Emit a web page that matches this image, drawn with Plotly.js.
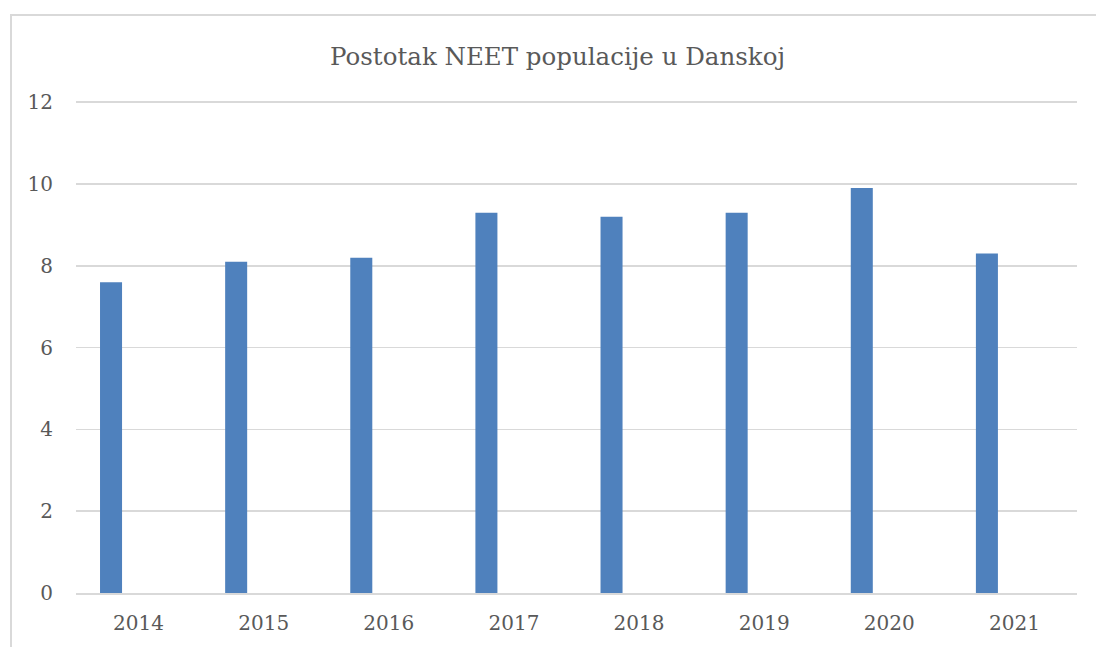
<!DOCTYPE html>
<html>
<head>
<meta charset="utf-8">
<script src="https://cdn.plot.ly/plotly-3.0.1.min.js"></script>
<style>
  html, body { margin: 0; padding: 0; background: #fff; overflow: hidden; }
  #frame { position: absolute; left: 10px; top: 14px; width: 1200px; height: 800px; border: 2px solid #D9D9D9; box-sizing: border-box; pointer-events: none; z-index: 2; }
  #chart { position: absolute; left: 0; top: 0; width: 1096px; height: 647px; }
</style>
</head>
<body>
<div id="chart"></div>
<div id="frame"></div>
<script>
const years = ["2014", "2015", "2016", "2017", "2018", "2019", "2020", "2021"];
const neetShare = [7.6, 8.1, 8.2, 9.3, 9.2, 9.3, 9.9, 8.3];
const yTicks = [0, 2, 4, 6, 8, 10, 12];
const titleText = "Postotak NEET populacije u Danskoj";

const fontFamily = "'DejaVu Serif', 'Liberation Serif', serif";
const textColor = "#595959";
const gridColor = "#D9D9D9";

const trace = {
  type: "bar",
  x: years,
  y: neetShare,
  width: 0.176,
  offset: -0.308,
  marker: { color: "#4F81BD", line: { width: 0 } },
  hoverinfo: "x+y"
};

const layout = {
  width: 1096,
  height: 647,
  paper_bgcolor: "rgba(0,0,0,0)",
  plot_bgcolor: "rgba(0,0,0,0)",
  margin: { l: 76, r: 19, t: 101, b: 54 },
  showlegend: false,
  title: {
    text: titleText,
    font: { family: fontFamily, size: 24.5, color: textColor },
    xref: "container",
    x: 0.5087,
    xanchor: "center",
    yref: "container",
    y: 1 - 56 / 647,
    yanchor: "middle"
  },
  xaxis: {
    type: "category",
    range: [-0.5, 7.5],
    showgrid: false,
    showline: true,
    linecolor: gridColor,
    linewidth: 1.5,
    ticks: "",
    ticklabelstandoff: 11,
    tickfont: { family: fontFamily, size: 20, color: textColor },
    fixedrange: true
  },
  yaxis: {
    range: [0, 12.03],
    tickvals: yTicks,
    ticktext: yTicks.map(String),
    showgrid: true,
    gridcolor: gridColor,
    gridwidth: 1.5,
    zeroline: false,
    showline: false,
    ticks: "",
    ticklabelstandoff: 22,
    tickfont: { family: fontFamily, size: 20, color: textColor },
    fixedrange: true
  }
};

Plotly.newPlot("chart", [trace], layout, { displayModeBar: false, staticPlot: true });
</script>
</body>
</html>
